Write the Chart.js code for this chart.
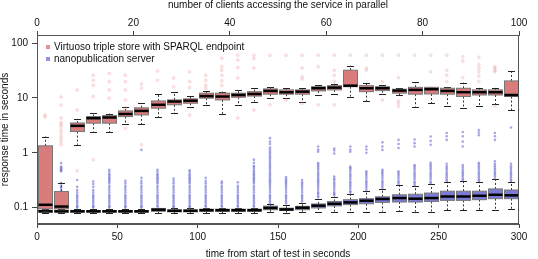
<!DOCTYPE html>
<html><head><meta charset="utf-8">
<script src="https://cdn.jsdelivr.net/npm/chart.js@4/dist/chart.umd.min.js"></script>
<style>html,body{margin:0;padding:0;background:#fff}canvas{display:block}</style>
</head><body>
<canvas id="c" width="538" height="259"></canvas>
<script>
const times = [5,15,25,35,45,55,65,75,85,95,105,115,125,135,145,155,165,175,185,195,205,215,225,235,245,255,265,275,285,295];
const timeTicks = [0,50,100,150,200,250,300];
const clientTicks = [0,20,40,60,80,100];
const yTicks = [0.1,1,10,100];
const seriesNames = ["Virtuoso triple store with SPARQL endpoint","nanopublication server"];

const redLow  = [0.088,0.09,1.4,2.44,2.4,3.3,3.3,4.4,5.3,6.9,7.5,5.1,7.5,8.6,9.9,9.9,8.6,11.3,11.7,10.6,8.8,11.7,11.3,6.9,8,7.2,6.6,7.2,7.7,6.0];
const redQ1   = [0.095,0.095,2.44,3.47,3.47,4.57,4.9,6.5,7.5,8.0,9.9,9.2,10.3,10.8,11.7,11.7,11.7,13.4,14,16,13,13.6,12.2,11.7,11.8,11.7,10.6,11.3,11.3,10.6];
const redMed  = [0.113,0.105,3.1,4.27,4.4,5.1,5.8,7.5,8.6,8.9,10.8,10.6,11.3,11.8,13.4,12.7,13,15,15.4,16.7,15,15,13.6,14,14.4,13.4,12.7,12.7,12.7,11.3];
const redQ3   = [1.34,0.197,3.5,4.57,4.76,5.8,6.6,8.8,9.2,9.6,12.2,12.2,12.2,13,14.6,14,14,16,16.7,32,16.7,16,14.4,15.6,15.6,15,15,14,14,20.4];
const redHigh = [1.98,0.285,4.15,5.4,5.2,6.9,8,11.7,12.7,11,13.6,13,14,15.4,15.6,15,15,17.2,18,38.6,18.5,17.2,15,19.2,15.8,15.6,19,15.4,15.4,31];
const redOut = [
  [4.5,4.9],
  [0.53,1.4,1.6,1.8,2.0,2.3,2.6,3.0,3.3,3.6,4.3,7.4,10.4],
  [0.47,6.0,14],
  [0.75,10.6,17,21,26],
  [9.9,14,19.8,28],
  [2.8,6.5,9.2,14,19.8,26],
  [1.4,15,18],
  [21,31],
  [16,23],
  [4.9,15.4,19.8,30],
  [15,17,21,26],
  [17,20.5,26,32,37,53],
  [4.3,23,36,49,60],
  [6.0,35,52,60],
  [7.5,60],
  [9.2,60],
  [8,22,24.4,35,60],
  [7.5,37,60],
  [7.5,20,26,32,60],
  [60],
  [32,35,60],
  [9.2,19.8,60],
  [7,8,8.8,23.4,60],
  [60],
  [30,60],
  [19.8,26,32,60],
  [23.4,47,56],
  [20,25,30,35,40,55],
  [7.2,30,32,35,37],
  []
];

const blueLow  = [0.079,0.079,0.079,0.079,0.079,0.079,0.079,0.08,0.079,0.079,0.08,0.08,0.08,0.08,0.083,0.08,0.082,0.083,0.085,0.085,0.082,0.085,0.088,0.085,0.082,0.09,0.09,0.09,0.09,0.093];
const blueQ1   = [0.083,0.083,0.083,0.083,0.083,0.083,0.083,0.086,0.084,0.084,0.086,0.086,0.086,0.086,0.092,0.089,0.092,0.099,0.108,0.114,0.118,0.125,0.127,0.127,0.13,0.136,0.136,0.14,0.146,0.146];
const blueMed  = [0.086,0.086,0.086,0.086,0.086,0.086,0.086,0.092,0.088,0.088,0.09,0.09,0.09,0.09,0.099,0.093,0.1,0.109,0.118,0.125,0.134,0.144,0.15,0.146,0.15,0.16,0.16,0.165,0.172,0.168];
const blueQ3   = [0.089,0.089,0.089,0.089,0.089,0.089,0.089,0.097,0.091,0.091,0.094,0.094,0.094,0.094,0.107,0.098,0.106,0.117,0.13,0.14,0.146,0.158,0.172,0.176,0.185,0.2,0.2,0.2,0.22,0.21];
const blueHigh = [0.095,0.095,0.095,0.095,0.095,0.095,0.095,0.1,0.097,0.097,0.1,0.1,0.1,0.1,0.115,0.11,0.12,0.145,0.16,0.18,0.2,0.22,0.26,0.25,0.27,0.3,0.31,0.3,0.33,0.3];
const blueOut = [
  [0.1,0.105,0.11,0.12,0.13,0.14,0.15,0.16,0.17,0.19,0.21,0.23,0.25,0.27],
  [0.1,0.105,0.11,0.12,0.13,0.14,0.15,0.16,0.17,0.19,0.21,0.23,0.25,0.28,0.46,0.48,0.5,0.53,0.56,0.65],
  [0.1,0.105,0.11,0.12,0.13,0.14,0.15,0.16,0.17,0.19,0.21,0.24,0.32],
  [0.1,0.105,0.11,0.12,0.13,0.14,0.15,0.16,0.17,0.19,0.21,0.24,0.27,0.3],
  [0.1,0.105,0.11,0.12,0.13,0.14,0.15,0.16,0.17,0.19,0.21,0.23,0.25,0.28,0.3,0.32,0.34,0.36,0.39,0.41,0.45,0.49],
  [0.1,0.105,0.11,0.12,0.13,0.14,0.15,0.16,0.17,0.19,0.21,0.23,0.25,0.28,0.31],
  [0.1,0.105,0.11,0.12,0.13,0.14,0.15,0.16,0.17,0.19,0.21,0.23,0.25,0.28,0.31,0.35,1.13],
  [0.105,0.11,0.12,0.13,0.14,0.15,0.16,0.17,0.19,0.21,0.23,0.25,0.28,0.3,0.32,0.34,0.36,0.39,0.41,0.45,0.49],
  [0.1,0.105,0.11,0.12,0.13,0.14,0.15,0.16,0.17,0.19,0.21,0.23,0.25,0.28,0.31,0.34],
  [0.1,0.105,0.11,0.12,0.13,0.14,0.15,0.16,0.17,0.19,0.21,0.23,0.25,0.28,0.3,0.32,0.34,0.36,0.39,0.41,0.45,0.48],
  [0.105,0.11,0.12,0.13,0.14,0.15,0.16,0.17,0.19,0.21,0.23,0.25,0.28,0.31,0.35],
  [0.105,0.11,0.12,0.13,0.14,0.15,0.16,0.17,0.19,0.21,0.23,0.25,0.28,0.3],
  [0.105,0.11,0.12,0.13,0.14,0.15,0.16,0.17,0.19,0.21,0.23,0.25,0.29],
  [0.105,0.11,0.12,0.13,0.14,0.15,0.16,0.17,0.19,0.21,0.23,0.25,0.28,0.3,0.32,0.34,0.36,0.39,0.41,0.44,0.47,0.51,0.55,0.58,0.66,0.75],
  [0.12,0.13,0.14,0.15,0.16,0.17,0.19,0.21,0.23,0.25,0.27,0.29,0.31,0.33,0.36,0.39,0.42,0.45,0.49,0.53,0.57,0.61,0.66,0.71,0.77,0.83,0.9,0.98,1.06,1.15,1.25,1.45,1.6,1.85],
  [0.12,0.13,0.14,0.15,0.16,0.17,0.19,0.21,0.23,0.25,0.27,0.29,0.31,0.33,0.36],
  [0.13,0.14,0.15,0.16,0.17,0.19,0.21,0.23,0.25,0.27,0.29,0.32],
  [0.155,0.165,0.18,0.19,0.21,0.23,0.25,0.27,0.29,0.31,0.33,0.36,0.39,0.42,0.45,0.49,0.53,0.57,0.61,0.65,1.05,1.15,1.3],
  [0.17,0.18,0.19,0.21,0.23,0.25,0.27,0.29,0.32,0.34,0.37,0.97,1.1,1.2],
  [0.19,0.2,0.22,0.24,0.26,0.28,0.3,0.33,0.36,0.39,0.42,0.46,0.5,0.53,0.56,1.05,1.15,1.3],
  [0.21,0.23,0.25,0.27,0.29,0.31,0.34,0.37,0.4,0.43,0.46,1.0,1.15,1.3],
  [0.23,0.25,0.27,0.29,0.31,0.34,0.37,0.4,0.43,0.46,0.49,1.13,1.3,1.55],
  [0.27,0.29,0.31,0.34,0.37,0.4,0.43,0.46,1.22,1.45,1.72],
  [0.26,0.28,0.3,0.33,0.36,0.39,0.42,0.45,0.49,0.53,0.57,0.6,1.3,1.5,1.75],
  [0.28,0.3,0.33,0.36,0.39,0.42,0.45,0.49,0.53,0.57,0.61,0.66,1.4,1.65,1.98],
  [0.31,0.33,0.36,0.39,0.42,0.45,0.49,0.53,0.57,0.63,1.72,2.0,2.3],
  [0.32,0.34,0.37,0.4,0.43,0.46,0.5,0.55,0.6,1.3,1.6,2.0,2.4],
  [0.31,0.33,0.36,0.39,0.42,0.45,0.49,0.53,0.57,0.62,0.66,2.1,2.35,2.6],
  [0.34,0.37,0.4,0.43,0.46,0.5,0.54,0.58,0.63,0.7,1.72,2.0,2.3],
  [0.31,0.33,0.36,0.39,0.42,0.45,0.49,0.53,0.57,0.63,2.9]
];

const FONT = "'Liberation Sans', Arial, Helvetica, sans-serif";
const BOX_W = 8.7; // box width in seconds (style)

function outPoints(out){
  const pts = [];
  out.forEach((arr,i)=>arr.forEach(v=>pts.push({x:times[i], y:v})));
  return pts;
}

const series = [
  {low:redLow,q1:redQ1,med:redMed,q3:redQ3,high:redHigh,fill:'#d97c7c'},
  {low:blueLow,q1:blueQ1,med:blueMed,q3:blueQ3,high:blueHigh,fill:'#7b7bd6'}
];

function drawBoxes(chart, s){
  const ctx = chart.ctx, xs = chart.scales.x, ys = chart.scales.y, ca = chart.chartArea;
  const w = xs.getPixelForValue(BOX_W) - xs.getPixelForValue(0);
  const hw = w/2, cw = w/4;
  ctx.save();
  ctx.beginPath(); ctx.rect(ca.left, ca.top, ca.right-ca.left, ca.bottom-ca.top); ctx.clip();
  for (let i=0;i<times.length;i++){
    const x = Math.round(xs.getPixelForValue(times[i])) + 0.5;
    const yl = ys.getPixelForValue(s.low[i]), y1 = ys.getPixelForValue(s.q1[i]),
          ym = ys.getPixelForValue(s.med[i]), y3 = ys.getPixelForValue(s.q3[i]),
          yh = ys.getPixelForValue(s.high[i]);
    ctx.strokeStyle = '#333'; ctx.lineWidth = 1; ctx.setLineDash([2,2]);
    ctx.beginPath(); ctx.moveTo(x, y3); ctx.lineTo(x, yh); ctx.moveTo(x, y1); ctx.lineTo(x, yl); ctx.stroke();
    ctx.setLineDash([]);
    ctx.strokeStyle = '#222';
    ctx.beginPath(); ctx.moveTo(x-cw, Math.round(yh)+0.5); ctx.lineTo(x+cw, Math.round(yh)+0.5);
    ctx.moveTo(x-cw, Math.round(yl)+0.5); ctx.lineTo(x+cw, Math.round(yl)+0.5); ctx.stroke();
    ctx.fillStyle = s.fill;
    ctx.fillRect(x-hw, y3, w, y1-y3);
    ctx.strokeStyle = '#777'; ctx.lineWidth = 1;
    ctx.strokeRect(x-hw, y3, w, y1-y3);
    ctx.strokeStyle = '#000'; ctx.lineWidth = 2.5;
    ctx.beginPath(); ctx.moveTo(x-hw, ym); ctx.lineTo(x+hw, ym); ctx.stroke();
  }
  ctx.restore();
}

const boxPlugin = {
  id: 'boxes',
  beforeDatasetDraw(chart, args){
    drawBoxes(chart, series[args.index]);
  },
  afterDraw(chart){
    const ctx = chart.ctx, ca = chart.chartArea;
    ctx.save();
    ctx.strokeStyle = '#555'; ctx.lineWidth = 1;
    ctx.strokeRect(Math.round(ca.left)+0.5, Math.round(ca.top)+0.5, Math.round(ca.right-ca.left)-1, Math.round(ca.bottom-ca.top)-1);
    ctx.font = '10px ' + FONT; ctx.textBaseline = 'middle';
    const lx = ca.left + 9, ly = ca.top + 12;
    const cols = ['rgba(220,110,110,0.75)','rgba(110,110,220,0.75)'];
    seriesNames.forEach((n,i)=>{
      const y = ly + i*12;
      ctx.fillStyle = cols[i]; ctx.fillRect(lx, y-2, 4, 4);
      ctx.fillStyle = '#111'; ctx.fillText(n, lx + 8, y);
    });
    ctx.restore();
  }
};

const tickFont = {family: FONT, size: 10};
new Chart(document.getElementById('c'), {
  type: 'scatter',
  data: {
    datasets: [
      {label: seriesNames[0], data: outPoints(redOut), pointRadius: 1.5, pointBorderWidth: 0.5,
       backgroundColor: 'rgba(225,120,120,0.18)', borderColor: 'rgba(215,110,110,0.3)', xAxisID:'x', yAxisID:'y'},
      {label: seriesNames[1], data: outPoints(blueOut), pointRadius: 1.3, pointBorderWidth: 0,
       backgroundColor: 'rgba(95,95,210,0.55)', borderColor: 'rgba(95,95,210,0)', xAxisID:'x', yAxisID:'y'}
    ]
  },
  options: {
    responsive: false, animation: false, devicePixelRatio: 1,
    layout: {padding: {left: 0, right: 19, top: 0, bottom: 0}},
    plugins: {legend: {display: false}, tooltip: {enabled: false}},
    scales: {
      x: {
        type: 'linear', position: 'bottom', min: 0, max: 300,
        afterBuildTicks: s => { s.ticks = timeTicks.map(v => ({value: v})); },
        afterFit: s => { s.height = 35; },
        grid: {drawOnChartArea: false, drawTicks: true, tickLength: 4, color: '#444'},
        border: {display: true, color: '#555'},
        ticks: {font: tickFont, color: '#111', padding: 3, maxRotation: 0, autoSkip: false},
        title: {display: true, text: 'time from start of test in seconds', font: tickFont, color: '#111', padding: {top: 0, bottom: -1}}
      },
      x2: {
        type: 'linear', position: 'top', min: 0, max: 100,
        afterBuildTicks: s => { s.ticks = clientTicks.map(v => ({value: v})); },
        afterFit: s => { s.height = 35; },
        grid: {drawOnChartArea: false, drawTicks: true, tickLength: 4, color: '#444'},
        border: {display: true, color: '#555'},
        ticks: {font: tickFont, color: '#111', padding: 2, maxRotation: 0, autoSkip: false},
        title: {display: true, text: 'number of clients accessing the service in parallel', font: tickFont, color: '#111', padding: {top: -1, bottom: 0}}
      },
      y: {
        type: 'logarithmic', position: 'left', min: 0.0505, max: 140,
        afterBuildTicks: s => { s.ticks = yTicks.map(v => ({value: v})); },
        afterFit: s => { s.width = 37; },
        grid: {drawOnChartArea: false, drawTicks: true, tickLength: 5, color: '#444'},
        border: {display: true, color: '#555'},
        ticks: {font: tickFont, color: '#111', padding: 4, autoSkip: false, callback: v => String(v)},
        title: {display: true, text: 'response time in seconds', font: tickFont, color: '#111', padding: {top: -1, bottom: 0}}
      }
    }
  },
  plugins: [boxPlugin]
});
</script>
</body></html>
